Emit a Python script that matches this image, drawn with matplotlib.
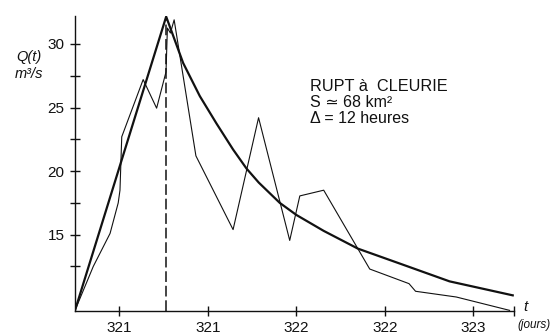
import matplotlib
matplotlib.use("Agg")
import matplotlib.pyplot as plt

plt.rcParams['font.family'] = ['Liberation Sans', 'DejaVu Sans']

# observed hydrograph (thin line), time in days
obs_t = [320.75, 320.853, 320.948, 320.994, 321.004, 321.014, 321.135, 321.211,
         321.264, 321.272, 321.289, 321.310, 321.433, 321.643, 321.787, 321.963,
         322.020, 322.155, 322.415, 322.637, 322.674, 322.904, 323.205]
obs_q = [9.05, 12.5, 15.1, 17.5, 18.5, 22.7, 27.2, 24.95,
         27.8, 31.25, 30.86, 31.9, 21.2, 15.4, 24.2, 14.55,
         18.05, 18.5, 12.3, 11.15, 10.55, 10.1, 9.05]

# model hydrograph (thick line)
mod_t = [320.75, 321.265, 321.361, 321.455, 321.549, 321.643, 321.719,
         321.788, 321.907, 322.001, 322.155, 322.349, 322.603, 322.866, 323.223]
mod_q = [9.05, 32.15, 28.5, 25.9, 23.75, 21.7, 20.2,
         19.1, 17.5, 16.55, 15.3, 13.9, 12.64, 11.33, 10.23]

t_peak = 321.265
q_peak = 32.15

xtick_pos = [321.0, 321.5, 322.0, 322.5, 323.0]
xtick_lab = ["321", "321", "322", "322", "323"]
ytick_pos = [12.5, 15, 17.5, 20, 22.5, 25, 27.5, 30]
ytick_lab = ["", "15", "", "20", "", "25", "", "30"]

fig = plt.figure(figsize=(5.5, 3.34), dpi=100)
ax = fig.add_axes([0.1364, 0.0689, 0.7981, 0.8832])

ax.plot(obs_t, obs_q, color='#111111', lw=0.8)
ax.plot(mod_t, mod_q, color='#111111', lw=1.6, solid_joinstyle='round')
ax.plot([t_peak, t_peak], [9.0, q_peak], color='#111111', lw=1.1,
        dashes=(7, 2.5))

ax.set_xlim(320.75, 323.23)
ax.set_ylim(9.0, 32.2)
for s in ['top', 'right']:
    ax.spines[s].set_visible(False)
for s in ['left', 'bottom']:
    ax.spines[s].set_linewidth(1.0)
    ax.spines[s].set_color('#111111')

ax.set_xticks(xtick_pos + [323.23])
ax.set_xticklabels(xtick_lab + [""])
ax.set_yticks(ytick_pos)
ax.set_yticklabels(ytick_lab)
ax.tick_params(direction='inout', length=7, width=1.0, color='#111111',
               labelsize=11, labelcolor='#111111')
ax.tick_params(axis='x', pad=4)
ax.tick_params(axis='y', pad=4)

# axis labels
fig.text(29 / 550, 1 - 57 / 334, "Q(t)", fontsize=10.5, style='italic',
         ha='center', va='center', color='#111111')
fig.text(29 / 550, 1 - 74 / 334, "m³/s", fontsize=10.5, style='italic',
         ha='center', va='center', color='#111111')
fig.text(523 / 550, 1 - 307 / 334, "t", fontsize=11, style='italic',
         ha='left', va='center', color='#111111')
fig.text(517 / 550, 1 - 325 / 334, "(jours)", fontsize=8.5, style='italic',
         ha='left', va='center', color='#111111')

# annotation block
fig.text(310 / 550, 1 - 91 / 334, "RUPT à  CLEURIE", fontsize=11.7,
         ha='left', va='baseline', color='#111111')
fig.text(310 / 550, 1 - 107 / 334, "S ≃ 68 km²", fontsize=11.5,
         ha='left', va='baseline', color='#111111')
fig.text(310 / 550, 1 - 123 / 334, "Δ = 12 heures", fontsize=11.5,
         ha='left', va='baseline', color='#111111')

fig.savefig("out.png", dpi=100)
